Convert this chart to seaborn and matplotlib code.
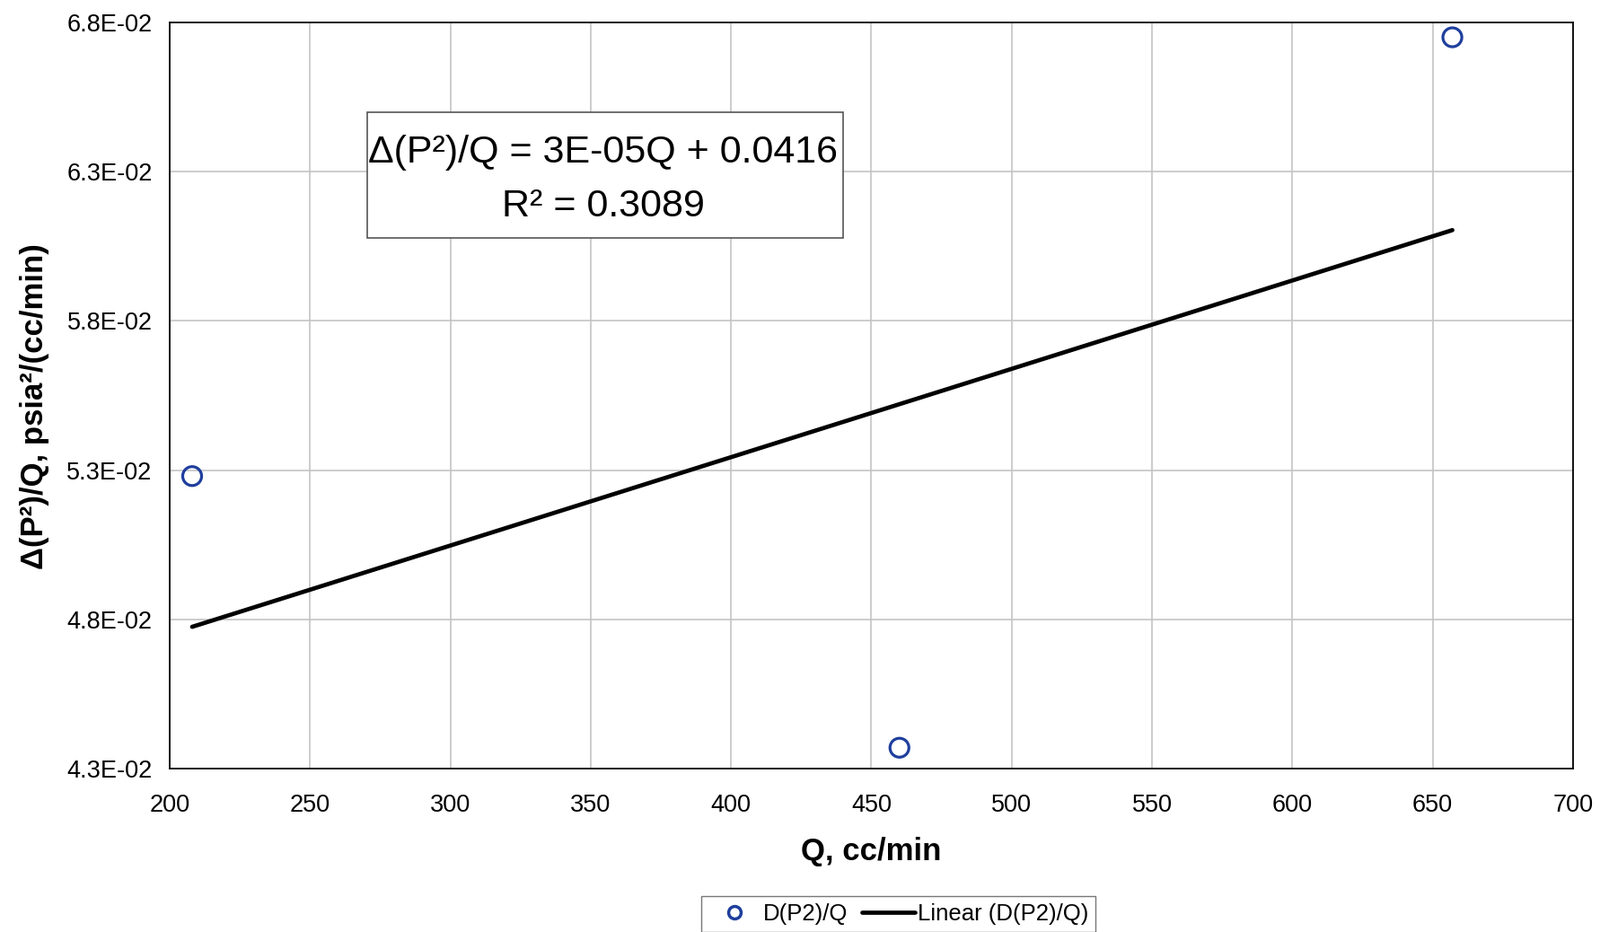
import numpy as np
import pandas as pd
import matplotlib
matplotlib.use("Agg")
import matplotlib.pyplot as plt
import seaborn as sns
from matplotlib.ticker import FuncFormatter
from matplotlib.lines import Line2D
from matplotlib.patches import Rectangle

# values
q_flow = [208, 460, 657]
dp2_over_q = [0.0528, 0.0437, 0.0675]
x_ticks = [200, 250, 300, 350, 400, 450, 500, 550, 600, 650, 700]
y_ticks = [0.043, 0.048, 0.053, 0.058, 0.063, 0.068]
eq_text = "Δ(P²)/Q = 3E-05Q + 0.0416\nR² = 0.3089"
pt_label = "D(P2)/Q"
fit_label = "Linear (D(P2)/Q)"

df = pd.DataFrame({"Q": q_flow, "DP2Q": dp2_over_q})

sns.set_theme(style="whitegrid")
plt.rcParams["font.family"] = ["Liberation Sans", "DejaVu Sans"]
plt.rcParams["text.color"] = "black"
plt.rcParams["axes.labelcolor"] = "black"

blue = "#1f3f9e"

fig = plt.figure(figsize=(17.83, 10.38), dpi=100)
ax = fig.add_axes([0.106, 0.1753, 0.8766, 0.8007])
ax.set_facecolor("white")

sns.scatterplot(data=df, x="Q", y="DP2Q", ax=ax, marker="o", s=230,
                facecolor="none", edgecolor=blue, linewidth=2.3,
                legend=False, zorder=4)
sns.regplot(data=df, x="Q", y="DP2Q", ax=ax, scatter=False, ci=None,
            line_kws=dict(color="black", linewidth=3.4))

ax.set_xlim(200, 700)
ax.set_ylim(0.043, 0.068)
ax.set_xticks(x_ticks)
ax.set_yticks(y_ticks)
ax.yaxis.set_major_formatter(FuncFormatter(lambda v, p: f"{v:.1E}"))
ax.grid(True, color="#c4c4c4", linewidth=1.2)
for s in ax.spines.values():
    s.set_color("black")
    s.set_linewidth(1.3)
ax.tick_params(axis="both", direction="out", length=6, width=1.2, color="black",
               labelsize=19.5, labelcolor="black")
ax.tick_params(axis="x", pad=14)
ax.tick_params(axis="y", pad=8)

ax.set_xlabel("Q, cc/min", fontsize=25, fontweight="bold", labelpad=16)
ax.set_ylabel("Δ(P²)/Q, psia²/(cc/min)", fontsize=25, fontweight="bold", labelpad=10)
ax.yaxis.set_label_coords(-0.086, 0.485)

# trendline label box
ax.add_patch(Rectangle((0.1408, 0.7112), 0.339, 0.1685, transform=ax.transAxes,
                       facecolor="white", edgecolor="#555555", linewidth=1.2, zorder=5))
ax.text(0.309, 0.7894, eq_text, transform=ax.transAxes, ha="center", va="center",
        multialignment="center", fontsize=31, linespacing=1.66, zorder=6)

handles = [
    Line2D([], [], linestyle="none", marker="o", markersize=10,
           markerfacecolor="none", markeredgecolor=blue, markeredgewidth=2.5),
    Line2D([], [], color="black", linewidth=3.4),
]
fig.legend(handles, [pt_label, fit_label], loc="lower center",
           bbox_to_anchor=(0.561, -0.012), ncol=2, fontsize=18.5, frameon=True,
           fancybox=False, edgecolor="#777777", framealpha=1,
           handlelength=2.3, columnspacing=0.6, handletextpad=0.1, borderpad=0.3)

fig.savefig("out.png", dpi=100)
